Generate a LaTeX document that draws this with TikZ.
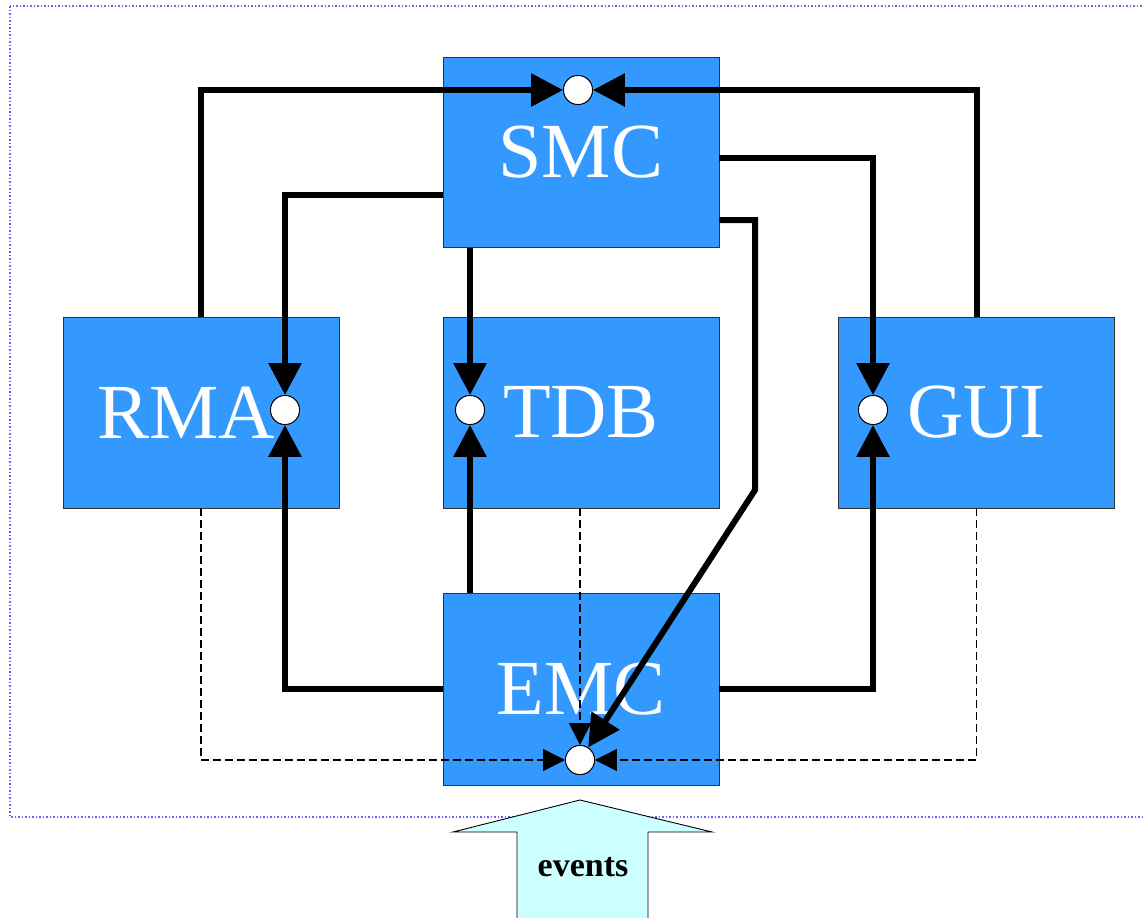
\documentclass[tikz,border=0pt]{standalone}
\usepackage{fontspec}
\setmainfont{Liberation Serif}
\usetikzlibrary{arrows.meta}
\definecolor{boxblue}{HTML}{3399FF}
\definecolor{eventcyan}{HTML}{CCFFFF}
\definecolor{framecol}{HTML}{6666EE}
\definecolor{boxedge}{HTML}{333333}
\tikzset{
  module/.style={draw=boxedge, line width=0.9pt, fill=boxblue, minimum width=276pt, minimum height=190pt, inner sep=0pt, text=white, font=\fontsize{78}{78}\selectfont},
  port/.style={circle, draw=black, line width=0.9pt, fill=white, minimum size=29pt, inner sep=0pt},
  flow/.style={line width=6pt, -{Triangle[length=32pt,width=32pt]}},
  evt/.style={line width=1.3pt, dash pattern=on 8pt off 4pt, -{Triangle[length=22pt,width=22pt]}},
}
\begin{document}
\begin{tikzpicture}[x=1pt,y=-1pt]
\useasboundingbox (0,0) rectangle (1143,918);
% frame
\draw[framecol, line width=1.5pt, dotted] (10,6) rectangle (1170,817);
% modules
\node[module] (smc) at (581,152.5) {SMC};
\node[module, minimum height=191pt] (rma) at (201,412.5) {\hspace*{-30pt}RMA};
\node[module, minimum height=191pt] (tdb) at (581,412.5) {TDB};
\node[module, minimum height=191pt] (gui) at (976.5,412.5) {GUI};
\node[module, minimum height=192pt] (emc) at (581,689) {EMC};
% ports
\node[port] (psmc) at (578,90) {};
\node[port] (prma) at (285,410) {};
\node[port] (ptdb) at (470,410) {};
\node[port] (pgui) at (873,410) {};
\node[port] (pemc) at (580,760) {};
\coordinate (bend) at (755,490);
% flows
\draw[flow] (rma.north) |- (psmc.west);
\draw[flow] (gui.north) |- (psmc.east);
\draw[flow] ([yshift=-42.5pt]smc.west) -| (prma.north);
\draw[flow] (smc.south -| ptdb) -- (ptdb.north);
\draw[flow] ([yshift=-5.5pt]smc.east) -| (pgui.north);
\draw[flow] ([yshift=-67.5pt]smc.east) -| (bend) -- (pemc);
\draw[flow] (emc.west) -| (prma.south);
\draw[flow] (emc.north -| ptdb) -- (ptdb.south);
\draw[flow] (emc.east) -| (pgui.south);
% event lines
\draw[evt] (rma.south) |- (pemc.west);
\draw[evt] (gui.south) |- (pemc.east);
\draw[evt] (tdb.south -| pemc.north) -- (pemc.north);
% redraw ports on top
\node[port] at (psmc) {};
\node[port] at (prma) {};
\node[port] at (ptdb) {};
\node[port] at (pgui) {};
\node[port] at (pemc) {};
% events arrow
\draw[fill=eventcyan, line width=0.9pt] (517,930) -- (517,832) -- (453,832) -- (580,800) -- (712,832) -- (648,832) -- (648,930);
\node[font=\fontsize{34}{34}\selectfont\bfseries] (events) at (583,867) {events};
\end{tikzpicture}
\end{document}
